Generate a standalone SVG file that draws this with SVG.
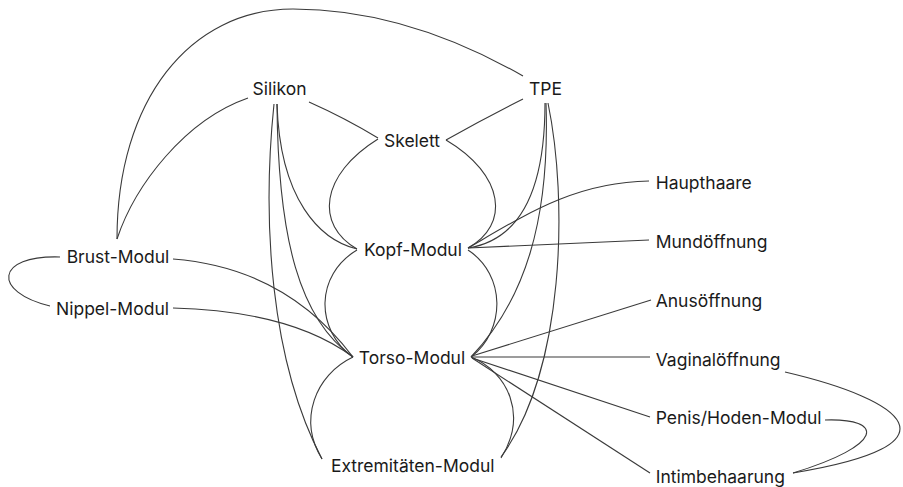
<svg xmlns="http://www.w3.org/2000/svg" width="903" height="487" viewBox="0 0 903 487">
<style>
.e{fill:none;stroke:#3a3a3a;stroke-width:1.1}
text{font-family:Inter,"Liberation Sans",sans-serif;font-size:17.5px;fill:#1a1a1a}
.c{text-anchor:middle}
</style>
<rect width="903" height="487" fill="#fff"/>
<g id="connectors">
<path class="e" d="M117,239 C117,100 190,9 293,9 C380,9 460,40 523,76"/>
<path class="e" d="M248,98 C185,120 135,185 117,239"/>
<path class="e" d="M309,102 Q345,118 378,138"/>
<path class="e" d="M523,99 Q485,118 446,140"/>
<path class="e" d="M378,139 C320,175 315,225 357,249"/>
<path class="e" d="M446,140 C505,175 510,225 468,248"/>
<path class="e" d="M277,104 C280,200 320,240 357,249"/>
<path class="e" d="M277,104 C278,240 300,320 353,357"/>
<path class="e" d="M274,104 C262,220 270,360 322,459"/>
<path class="e" d="M545,103 C545,190 520,240 468,248"/>
<path class="e" d="M546,103 C550,220 525,300 471,357"/>
<path class="e" d="M548,103 C568,200 565,370 501,457"/>
<path class="e" d="M357,250 C315,275 315,330 353,357"/>
<path class="e" d="M468,250 C506,275 506,330 471,357"/>
<path class="e" d="M353,357 C315,375 298,420 322,459"/>
<path class="e" d="M471,357 C508,372 528,415 501,458"/>
<path class="e" d="M468,248 C525,215 575,182 649,181"/>
<path class="e" d="M468,248 L649,240"/>
<path class="e" d="M173,259 C250,265 310,300 353,357"/>
<path class="e" d="M173,308 C250,310 310,325 353,357"/>
<path class="e" d="M60,257 C-5,255 -8,292 50,306"/>
<path class="e" d="M472,356 L651,300"/>
<path class="e" d="M472,357 L650,357"/>
<path class="e" d="M472,358 L650,417"/>
<path class="e" d="M472,358 L650,473"/>
<path class="e" d="M785,372 C905,400 965,445 793,473"/>
<path class="e" d="M825,420 C885,418 885,445 793,473"/>
</g>
<g id="silikon"><text class="c" x="279.5" y="95">Silikon</text></g>
<g id="tpe"><text class="c" x="545.5" y="95">TPE</text></g>
<g id="skelett"><text class="c" x="412" y="147">Skelett</text></g>
<g id="kopf-modul"><text class="c" x="413" y="256">Kopf-Modul</text></g>
<g id="brust-modul"><text class="c" x="118" y="263">Brust-Modul</text></g>
<g id="nippel-modul"><text class="c" x="112.5" y="315">Nippel-Modul</text></g>
<g id="torso-modul"><text class="c" x="412" y="364">Torso-Modul</text></g>
<g id="extremitaeten-modul"><text class="c" x="412.7" y="472">Extremitäten-Modul</text></g>
<g id="haupthaare"><text x="655.7" y="189">Haupthaare</text></g>
<g id="mundoeffnung"><text x="655.7" y="248">Mundöffnung</text></g>
<g id="anusoeffnung"><text x="655.7" y="307">Anusöffnung</text></g>
<g id="vaginaloeffnung"><text x="655.7" y="366">Vaginalöffnung</text></g>
<g id="penis-hoden-modul"><text x="655.7" y="424">Penis/Hoden-Modul</text></g>
<g id="intimbehaarung"><text x="655.7" y="483">Intimbehaarung</text></g>
</svg>
